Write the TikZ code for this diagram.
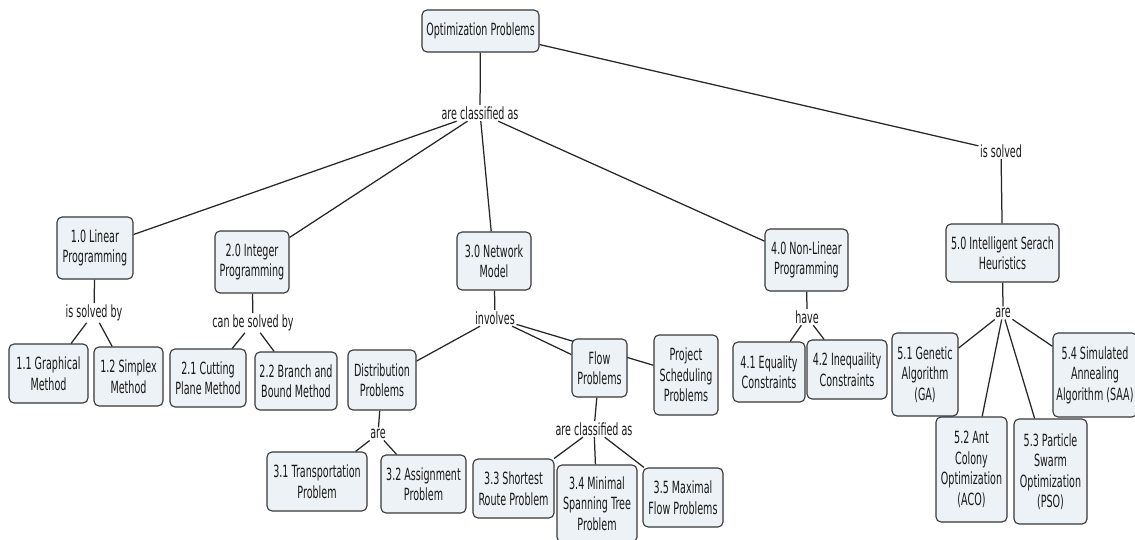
\documentclass[tikz,border=0pt]{standalone}
\usepackage{fontspec}
\setmainfont{DejaVu Sans}[FakeStretch=0.57]
\usetikzlibrary{backgrounds}
\definecolor{boxfill}{RGB}{236,242,246}
\definecolor{boxline}{RGB}{55,55,55}
\definecolor{ink}{RGB}{25,25,25}

\begin{document}
\begin{tikzpicture}[x=1pt,y=-1pt,
  concept/.style={draw=boxline, line width=1.1pt, fill=boxfill, rounded corners=5pt,
    align=center, inner sep=1pt, text=ink, font=\fontsize{16.8}{20.5}\selectfont},
  sz/.style 2 args={minimum width=#1pt, minimum height=#2pt},
  linkword/.style={inner sep=1.5pt, text=ink, font=\fontsize{16.8}{20.5}\selectfont},
  conn/.style={draw=black!85, line width=1.25pt}]
\useasboundingbox (0,0) rectangle (1135,540);

% top concept and its two linking phrases
\node[concept, sz={117}{42}] (opt) at (480.5,31) {Optimization Problems};
\node[linkword] (cls) at (480,113) {are classified as};
\node[linkword] (slv) at (1001,151) {is solved};

% 1.0 linear programming
\node[concept, sz={76}{62}] (lp) at (95,248) {1.0 Linear\\Programming};
\node[linkword] (lpby) at (94,313) {is solved by};
\node[concept, sz={79}{59}] (graph) at (48.5,373.5) {1.1 Graphical\\Method};
\node[concept, sz={69}{59}] (simplex) at (128.5,376.5) {1.2 Simplex\\Method};

% 2.0 integer programming
\node[concept, sz={74}{62}] (ip) at (252,262) {2.0 Integer\\Programming};
\node[linkword] (ipby) at (253,323) {can be solved by};
\node[concept, sz={76}{58}] (cut) at (208,378) {2.1 Cutting\\Plane Method};
\node[concept, sz={82}{58}] (bnb) at (296,381) {2.2 Branch and\\Bound Method};

% 3.0 network model
\node[concept, sz={74}{58}] (net) at (494,261) {3.0 Network\\Model};
\node[linkword] (inv) at (495,318) {involves};
\node[concept, sz={68}{60}] (dist) at (382,380) {Distribution\\Problems};
\node[concept, sz={55}{58}] (flow) at (599.5,368) {Flow\\Problems};
\node[concept, sz={64}{80}] (proj) at (686,375) {Project\\Scheduling\\Problems};
\node[linkword] (distare) at (378,434) {are};
\node[concept, sz={100}{59}] (trans) at (317,481.5) {3.1 Transportation\\Problem};
\node[concept, sz={85}{58}] (assign) at (423.5,484) {3.2 Assignment\\Problem};
\node[linkword] (flowcls) at (594,429) {are classified as};
\node[concept, sz={81}{59}] (short) at (513.5,488.5) {3.3 Shortest\\Route Problem};
\node[concept, sz={80}{77}] (mst) at (597,503.5) {3.4 Minimal\\Spanning Tree\\Problem};
\node[concept, sz={80}{59}] (maxf) at (683,497.5) {3.5 Maximal\\Flow Problems};

% 4.0 non-linear programming
\node[concept, sz={83}{62}] (nlp) at (806.5,260) {4.0 Non-Linear\\Programming};
\node[linkword] (have) at (807,317) {have};
\node[concept, sz={72}{60}] (eq) at (769,372) {4.1 Equality\\Constraints};
\node[concept, sz={80}{59}] (ineq) at (847,369.5) {4.2 Inequaility\\Constraints};

% 5.0 intelligent search heuristics
\node[concept, sz={113}{58}] (heur) at (1002.5,253) {5.0 Intelligent Serach\\Heuristics};
\node[linkword] (heurare) at (1003,313) {are};
\node[concept, sz={66}{83}] (ga) at (925,374.5) {5.1 Genetic\\Algorithm\\(GA)};
\node[concept, sz={71}{105}] (aco) at (971.5,469.5) {5.2 Ant\\Colony\\Optimization\\(ACO)};
\node[concept, sz={73}{105}] (pso) at (1050.5,471.5) {5.3 Particle\\Swarm\\Optimization\\(PSO)};
\node[concept, sz={84}{84}] (saa) at (1095,375) {5.4 Simulated\\Annealing\\Algorithm (SAA)};

% connectors sit behind the concept boxes
\begin{pgfonlayer}{background}
\draw[conn] (opt) -- (cls);
\draw[conn] (cls) -- (lp);
\draw[conn] (cls) -- (ip);
\draw[conn] (cls) -- (net);
\draw[conn] (cls) -- (nlp);
\draw[conn] (opt) -- (slv);
\draw[conn] (slv) -- (heur);

\draw[conn] (lp) -- (lpby);
\draw[conn] (lpby) -- (graph);
\draw[conn] (lpby) -- (simplex);

\draw[conn] (ip) -- (ipby);
\draw[conn] (ipby) -- (cut);
\draw[conn] (ipby) -- (bnb);

\draw[conn] (net) -- (inv);
\draw[conn] (inv) -- (dist);
\draw[conn] (inv) -- (flow);
\draw[conn] (inv) -- (proj);
\draw[conn] (dist) -- (distare);
\draw[conn] (distare) -- (trans);
\draw[conn] (distare) -- (assign);
\draw[conn] (flow) -- (flowcls);
\draw[conn] (flowcls) -- (short);
\draw[conn] (flowcls) -- (mst);
\draw[conn] (flowcls) -- (maxf);

\draw[conn] (nlp) -- (have);
\draw[conn] (have) -- (eq);
\draw[conn] (have) -- (ineq);

\draw[conn] (heur) -- (heurare);
\draw[conn] (heurare) -- (ga);
\draw[conn] (heurare) -- (aco);
\draw[conn] (heurare) -- (pso);
\draw[conn] (heurare) -- (saa);
\end{pgfonlayer}
\end{tikzpicture}
\end{document}
